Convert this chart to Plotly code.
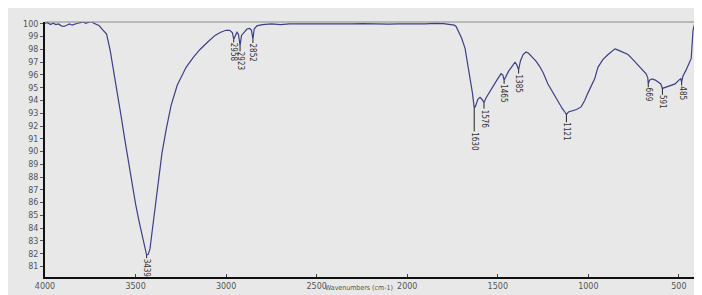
import numpy as np
import plotly.graph_objects as go

wavenumber = [4000, 3985, 3970, 3955, 3940, 3925, 3910, 3895, 3880, 3865, 3850, 3835, 3820, 3805, 3790,
              3775, 3760, 3745, 3730, 3715, 3700, 3685, 3670, 3660, 3640, 3620, 3600, 3580, 3560, 3540,
              3520, 3500, 3480, 3460, 3445, 3439, 3430, 3420, 3415, 3400, 3387, 3370, 3354, 3330, 3304,
              3270, 3221, 3180, 3144, 3100, 3061, 3030, 3000, 2980, 2965, 2958, 2950, 2940, 2932, 2923,
              2915, 2900, 2885, 2870, 2860, 2852, 2845, 2830, 2800, 2750, 2700, 2650, 2600, 2550, 2500,
              2450, 2400, 2350, 2300, 2250, 2200, 2150, 2100, 2050, 2000, 1950, 1900, 1850, 1800, 1760,
              1740, 1730, 1715, 1700, 1681, 1665, 1650, 1640, 1630, 1622, 1610, 1598, 1588, 1576, 1565,
              1545, 1526, 1505, 1482, 1472, 1465, 1455, 1440, 1420, 1405, 1395, 1385, 1375, 1360, 1344,
              1330, 1310, 1290, 1270, 1250, 1223, 1195, 1167, 1145, 1130, 1121, 1110, 1090, 1065, 1040,
              1020, 1002, 985, 965, 947, 920, 891, 875, 853, 835, 815, 800, 781, 760, 740, 715, 695, 681,
              672, 669, 662, 648, 630, 615, 600, 591, 580, 560, 540, 521, 500, 490, 485, 478, 460, 445,
              432, 422, 410, 400]
transmittance = [100.05, 100.1, 99.95, 100.05, 99.95, 100.0, 99.85, 99.8, 99.9, 100.0, 99.9, 100.0, 100.05, 100.1, 100.15,
                 100.05, 100.1, 100.2, 100.05, 99.95, 99.85, 99.6, 99.4, 99.2, 97.9, 96.3, 94.6, 92.8, 91.0, 89.2,
                 87.5, 85.9, 84.5, 83.2, 82.3, 81.9, 81.95, 82.4, 83.0, 84.8, 86.2, 88.0, 89.9, 91.8, 93.6,
                 95.2, 96.6, 97.4, 98.0, 98.6, 99.1, 99.35, 99.5, 99.5, 99.3, 98.8, 99.1, 99.35, 99.2, 98.3,
                 99.1, 99.4, 99.6, 99.65, 99.5, 98.8, 99.6, 99.85, 99.95, 100.0, 99.95, 100.0, 100.0, 99.95, 100.0,
                 100.0, 99.95, 100.0, 100.0, 100.02, 100.0, 100.0, 99.98, 100.0, 100.02, 100.0, 100.0, 100.05, 100.02, 99.95,
                 99.9, 99.8, 99.4, 98.9, 98.1, 96.8, 95.5, 94.6, 93.4, 93.6, 94.1, 94.25, 94.1, 93.85, 94.2,
                 94.7, 95.1, 95.6, 96.1, 96.0, 95.6, 95.9, 96.3, 96.7, 97.0, 96.8, 96.4, 97.1, 97.6, 97.8,
                 97.7, 97.4, 97.1, 96.7, 96.2, 95.3, 94.6, 93.9, 93.4, 93.1, 92.9, 93.1, 93.2, 93.3, 93.5,
                 94.0, 94.6, 95.1, 95.7, 96.6, 97.2, 97.6, 97.8, 98.05, 97.95, 97.8, 97.75, 97.6, 97.3, 97.0, 96.6, 96.3, 96.1,
                 95.8, 95.3, 95.6, 95.7, 95.6, 95.45, 95.3, 94.95, 95.0, 95.1, 95.2, 95.3, 95.6, 95.7, 95.45, 95.9, 96.4, 96.9,
                 97.3, 99.5, 100.2, 100.4]

peak_positions = [3439, 2958, 2923, 2852, 1630, 1576, 1465, 1385, 1121, 669, 591, 485]
peak_labels = ["3439", "2958", "2923", "2852", "1630", "1576", "1465", "1385", "1121", "669", "591", "485"]
x_tick_values = [4000, 3500, 3000, 2500, 2000, 1500, 1000, 500]
y_tick_values = list(range(81, 101))

# style: length of each peak's marker line in pixels
marker_len = [3, 3, 5, 3, 23, 6, 3, 3, 7, 3, 6, 3]

BG = "#e8e8e8"
LINE = "#3c3f88"

fig = go.Figure()
fig.add_trace(go.Scatter(x=wavenumber, y=transmittance, mode="lines",
                         line=dict(color=LINE, width=1.2), hoverinfo="skip", showlegend=False))

wn_sorted = np.array(wavenumber[::-1], dtype=float)
t_sorted = np.array(transmittance[::-1], dtype=float)
for pos, lab, ml in zip(peak_positions, peak_labels, marker_len):
    tval = float(np.interp(pos, wn_sorted, t_sorted))
    half = 4.6 * len(lab) / 2 + 1
    fig.add_annotation(x=pos, y=tval, text=lab, textangle=90, showarrow=True, arrowhead=0,
                       arrowwidth=1, arrowcolor="#222", ax=0, ay=ml + half, borderpad=0,
                       font=dict(family="DejaVu Sans Condensed, Liberation Sans Narrow, Arial", size=8, color="#333"))

fig.add_annotation(text="Wavenumbers (cm-1)", xref="paper", yref="paper", x=0.482, y=-0.02,
                   xanchor="center", yanchor="top", showarrow=False,
                   font=dict(family="DejaVu Sans Condensed, Liberation Sans Narrow, Arial", size=7, color="#555"))

# frame top and right
fig.add_shape(type="line", xref="paper", yref="paper", x0=0, x1=1, y0=1, y1=1,
              line=dict(color="#8a8a8a", width=1))
fig.add_shape(type="line", xref="paper", yref="paper", x0=1, x1=1, y0=0, y1=1,
              line=dict(color="#555", width=1.5))

fig.update_layout(
    width=702, height=295,
    margin=dict(l=37, r=13, t=12, b=14),
    paper_bgcolor=BG, plot_bgcolor=BG,
    xaxis=dict(range=[4000, 400], tickvals=x_tick_values, showgrid=False, zeroline=False,
               showline=True, linecolor="#111", linewidth=2, ticks="inside", ticklen=3, tickcolor="#444",
               tickfont=dict(family="DejaVu Sans", size=8, color="#555")),
    yaxis=dict(range=[80.18, 100.15], tickvals=y_tick_values, showgrid=False, zeroline=False,
               showline=True, linecolor="#111", linewidth=2, ticks="outside", ticklen=3, tickcolor="#555",
               tickfont=dict(family="DejaVu Sans", size=8, color="#555")),
)

fig.write_html("out.html")
